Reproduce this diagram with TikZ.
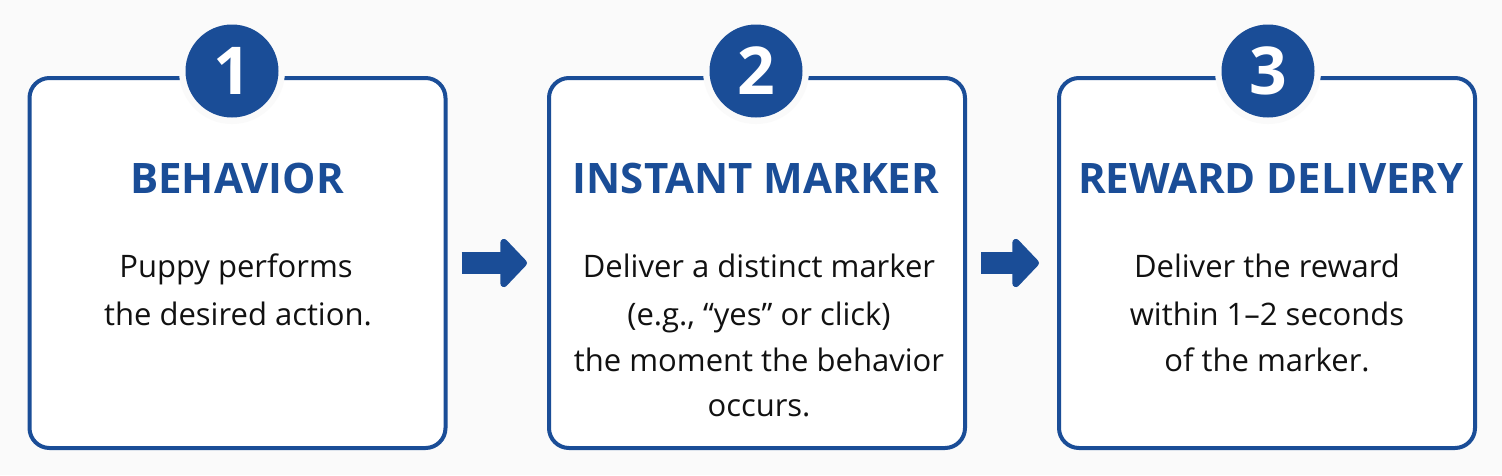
\documentclass[tikz,border=0pt]{standalone}
\usepackage{fontspec}
\setmainfont{Open Sans}
\usetikzlibrary{arrows.meta}
\definecolor{navy}{HTML}{1A4D97}
\definecolor{ink}{HTML}{111111}
\definecolor{bg}{HTML}{FAFAFA}
\tikzset{
  stepbox/.style={draw=navy, line width=4pt, rounded corners=20pt, fill=white,
    minimum width=416pt, minimum height=370pt, inner sep=0pt},
  halo/.style={circle, fill=bg, minimum size=106pt, inner sep=0pt},
  badge/.style={circle, fill=navy, text=white, minimum size=93pt, inner sep=0pt,
    font=\fontsize{66}{66}\selectfont\bfseries},
  title/.style={text=navy, inner sep=0pt, anchor=center, font=\fontsize{42}{42}\selectfont\bfseries},
  body/.style={text=ink, inner sep=0pt, anchor=base, font=\fontsize{31}{31}\selectfont},
  flow/.style={navy, line width=22pt, -{Triangle[width=57pt,length=28pt,round]}}
}
\begin{document}
\begin{tikzpicture}[x=1pt,y=-1pt]
\fill[bg] (0,0) rectangle (1502,475);
\useasboundingbox (0,0) rectangle (1502,475);
% boxes
\node[stepbox] (b1) at (237.5,263) {};
\node[stepbox] (b2) at (757,263) {};
\node[stepbox] (b3) at (1267,263) {};
% badges
\node[halo] (h1) at (232,71) {};
\node[halo] (h2) at (756,71) {};
\node[halo] (h3) at (1268,71) {};
\node[badge] (c1) at (232,71) {1};
\node[badge] (c2) at (756,71) {2};
\node[badge] (c3) at (1268,71) {3};
% titles
\node[title] (t1) at (237,178) {BEHAVIOR};
\node[title] (t2) at (756,178) {INSTANT MARKER};
\node[title] (t3) at (1271,178) {REWARD DELIVERY};
% body text
\node[body] (p11) at (236,277) {Puppy performs};
\node[body] (p12) at (238,325) {the desired action.};
\node[body] (p21) at (759,277) {Deliver a distinct marker};
\node[body] (p22) at (759,325) {(e.g., “yes” or click)};
\node[body] (p23) at (759,371) {the moment the behavior};
\node[body] (p24) at (759,416) {occurs.};
\node[body] (p31) at (1267,277) {Deliver the reward};
\node[body] (p32) at (1267,325) {within 1–2 seconds};
\node[body] (p33) at (1267,371) {of the marker.};
% arrows
\draw[flow] ([xshift=14pt]b1.east) -- ([xshift=-20pt]b2.west);
\draw[flow] ([xshift=14pt]b2.east) -- ([xshift=-18pt]b3.west);
\end{tikzpicture}
\end{document}
